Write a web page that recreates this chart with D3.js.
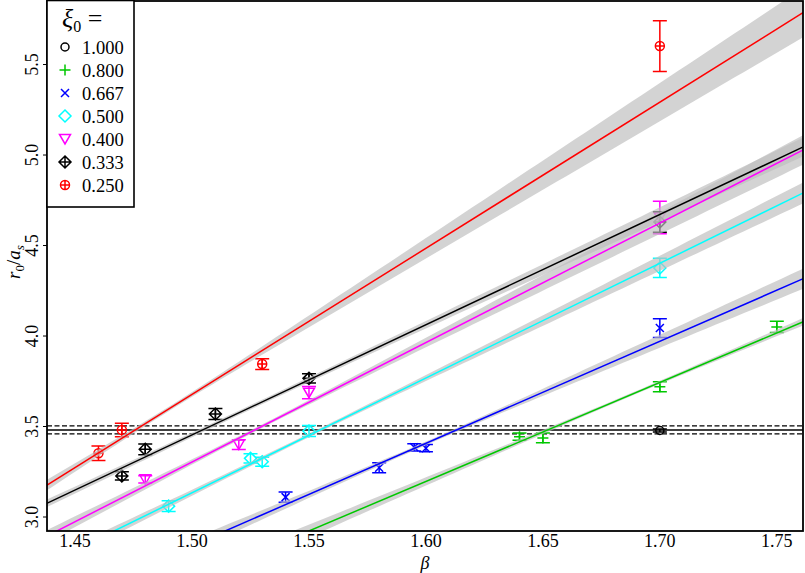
<!DOCTYPE html>
<html>
<head>
<meta charset="utf-8">
<script src="https://cdn.jsdelivr.net/npm/d3@7"></script>
<style>
  body { margin: 0; background: #fff; }
  svg { display: block; }
</style>
</head>
<body>
<div id="graf"></div>
<script>
// I. Datos

const xi0Labels = ['1.000', '0.800', '0.667', '0.500', '0.400', '0.333', '0.250']
const colores = ['#000000', '#00c800', '#0000ff', '#00ffff', '#ff00ff', '#000000', '#ff0000']
const marcadores = ['circle', 'plus', 'x', 'diamond', 'triangleDown', 'diamondPlus', 'circlePlus']

const beta_1000 = [1.70]
const r0_1000 = [3.478]
const err_1000 = [0.008]

const beta_0800 = [1.64, 1.65, 1.70, 1.75]
const r0_0800 = [3.444, 3.437, 3.720, 4.050]
const err_0800 = [0.020, 0.027, 0.028, 0.031]

const beta_0667 = [1.54, 1.58, 1.595, 1.60, 1.70]
const r0_0667 = [3.110, 3.272, 3.385, 3.380, 4.044]
const err_0667 = [0.028, 0.028, 0.020, 0.020, 0.052]

const beta_0500 = [1.49, 1.525, 1.53, 1.55, 1.70]
const r0_0500 = [3.060, 3.324, 3.305, 3.475, 4.376]
const err_0500 = [0.030, 0.026, 0.025, 0.030, 0.053]

const beta_0400 = [1.48, 1.52, 1.55, 1.70]
const r0_0400 = [3.208, 3.400, 3.687, 4.655]
const err_0400 = [0.020, 0.027, 0.034, 0.090]

const beta_0333 = [1.47, 1.48, 1.51, 1.55, 1.70]
const r0_0333 = [3.227, 3.374, 3.569, 3.766, 4.630]
const err_0333 = [0.023, 0.030, 0.030, 0.025, 0.057]

const beta_0250 = [1.46, 1.47, 1.53, 1.70]
const r0_0250 = [3.352, 3.481, 3.845, 5.602]
const err_0250 = [0.040, 0.037, 0.030, 0.140]

// ajustes lineales (xi0 = 0.800 ... 0.250): valor en beta = 1.55 y pendiente
const ajusteIdx = [1, 2, 3, 4, 5, 6]
const ajusteEn155 = [2.923, 3.125, 3.451, 3.634, 3.758, 4.081]
const ajustePendiente = [5.47, 5.64, 6.34, 6.60, 6.09, 8.075]
// banda de error del ajuste
const bandaCentro = [1.685, 1.60, 1.55, 1.53, 1.52, 1.49]
const bandaMin = [0.008, 0.010, 0.010, 0.010, 0.012, 0.012]
const bandaPend = [0.25, 0.34, 0.27, 0.35, 0.21, 0.50]

// valor de referencia r0/as (linea horizontal)
const plateau = 3.481
const plateauErr = 0.022

const xTicks = [1.45, 1.50, 1.55, 1.60, 1.65, 1.70, 1.75]
const yTicks = [3.0, 3.5, 4.0, 4.5, 5.0, 5.5]

// II. Configuracion
const ancho_total = 805, alto_total = 573
const margins = { top: 1, left: 47, right: 2, bottom: 42 }
const fuente = '"Liberation Serif", "Times New Roman", "DejaVu Serif", serif'

const svg = d3.select('#graf').append('svg')
        .attr('width', ancho_total)
        .attr('height', alto_total)
        .attr('font-family', fuente)

const x = d3.scaleLinear().domain([1.438, 1.7612]).range([margins.left, ancho_total - margins.right])
const y = d3.scaleLinear().domain([2.9227, 5.851]).range([alto_total - margins.bottom, margins.top])

const series = [
        { beta: beta_1000, r0: r0_1000, err: err_1000 },
        { beta: beta_0800, r0: r0_0800, err: err_0800 },
        { beta: beta_0667, r0: r0_0667, err: err_0667 },
        { beta: beta_0500, r0: r0_0500, err: err_0500 },
        { beta: beta_0400, r0: r0_0400, err: err_0400 },
        { beta: beta_0333, r0: r0_0333, err: err_0333 },
        { beta: beta_0250, r0: r0_0250, err: err_0250 }
].map((s, i) => ({
        color: colores[i], marcador: marcadores[i], label: xi0Labels[i],
        puntos: s.beta.map((b, j) => ({ beta: b, r0: s.r0[j], err: s.err[j] }))
}))

svg.append('clipPath').attr('id', 'clip')
        .append('rect')
        .attr('x', x.range()[0]).attr('y', y.range()[1])
        .attr('width', x.range()[1] - x.range()[0])
        .attr('height', y.range()[0] - y.range()[1])

const g = svg.append('g').attr('clip-path', 'url(#clip)')

// Funcion para marcadores
function markerPath(tipo) {
        const p = d3.path()
        const circ = r => { p.moveTo(r, 0); p.arc(0, 0, r, 0, 2 * Math.PI) }
        const cruz = r => { p.moveTo(-r, 0); p.lineTo(r, 0); p.moveTo(0, -r); p.lineTo(0, r) }
        const rombo = r => { p.moveTo(0, -r); p.lineTo(r, 0); p.lineTo(0, r); p.lineTo(-r, 0); p.closePath() }
        if (tipo == 'circle') circ(4)
        if (tipo == 'plus') cruz(5.5)
        if (tipo == 'x') { p.moveTo(-4, -4); p.lineTo(4, 4); p.moveTo(-4, 4); p.lineTo(4, -4) }
        if (tipo == 'diamond') rombo(6)
        if (tipo == 'triangleDown') { p.moveTo(-5.5, -4.5); p.lineTo(5.5, -4.5); p.lineTo(0, 5); p.closePath() }
        if (tipo == 'diamondPlus') { rombo(6); cruz(6) }
        if (tipo == 'circlePlus') { circ(4.5); cruz(4.5) }
        return p.toString()
}

// III. Lineas horizontales
g.append('line')
        .attr('x1', x.range()[0]).attr('x2', x.range()[1])
        .attr('y1', y(plateau)).attr('y2', y(plateau))
        .attr('stroke', '#000').attr('stroke-width', 1.6)
;[plateau - plateauErr, plateau + plateauErr].forEach(v => {
        g.append('line')
                .attr('x1', x.range()[0]).attr('x2', x.range()[1])
                .attr('y1', y(v)).attr('y2', y(v))
                .attr('stroke', '#000').attr('stroke-width', 1.3)
                .attr('stroke-dasharray', '5,2.5')
})

// IV. Puntos con barras de error
series.forEach(s => {
        const pts = g.append('g').selectAll('g')
                .data(s.puntos)
                .join('g')
                .attr('transform', d => `translate(${x(d.beta)},${y(d.r0)})`)
                .attr('stroke', s.color)
                .attr('fill', 'none')
                .attr('stroke-width', 1.5)

        pts.append('path')
                .attr('d', d => {
                        const h = y(d.r0 - d.err) - y(d.r0)
                        return `M0,${-h}V${h}M-7,${-h}H7M-7,${h}H7`
                })
        pts.append('path').attr('d', markerPath(s.marcador))
})

// V. Bandas y rectas de ajuste
const betas = d3.range(x.domain()[0] - 0.01, x.domain()[1] + 0.01, 0.004)

ajusteIdx.forEach((idx, k) => {
        const recta = b => ajusteEn155[k] + ajustePendiente[k] * (b - 1.55)
        const ancho = b => Math.sqrt(bandaMin[k] ** 2 + (bandaPend[k] * (b - bandaCentro[k])) ** 2)

        const area = d3.area()
                .x(b => x(b))
                .y0(b => y(recta(b) - ancho(b)))
                .y1(b => y(recta(b) + ancho(b)))

        g.append('path')
                .datum(betas)
                .attr('d', area)
                .attr('fill', 'rgb(190,190,190)')
                .attr('fill-opacity', 0.68)
})

ajusteIdx.forEach((idx, k) => {
        const recta = b => ajusteEn155[k] + ajustePendiente[k] * (b - 1.55)
        const valueline = d3.line().x(b => x(b)).y(b => y(recta(b)))
        g.append('path')
                .datum([betas[0], betas[betas.length - 1]])
                .attr('d', valueline)
                .attr('fill', 'none')
                .attr('stroke', colores[idx])
                .attr('stroke-width', 1.5)
})

// VI. Ejes
svg.append('g').selectAll('text')
        .data(xTicks)
        .join('text')
        .attr('x', d => x(d))
        .attr('y', 547)
        .attr('text-anchor', 'middle')
        .attr('font-size', 18)
        .text(d => d.toFixed(2))

const yAxisGroup = svg.append('g')
yAxisGroup.selectAll('line')
        .data(yTicks)
        .join('line')
        .attr('x1', x.range()[0] - 4).attr('x2', x.range()[0])
        .attr('y1', d => y(d)).attr('y2', d => y(d))
        .attr('stroke', '#000').attr('stroke-width', 1)
yAxisGroup.selectAll('text')
        .data(yTicks)
        .join('text')
        .attr('transform', d => `translate(38,${y(d)}) rotate(-90)`)
        .attr('text-anchor', 'middle')
        .attr('font-size', 18)
        .text(d => d.toFixed(1))

// etiquetas de ejes
svg.append('text')
        .attr('x', 425).attr('y', 569)
        .attr('text-anchor', 'middle')
        .attr('font-size', 18)
        .attr('font-style', 'italic')
        .text('β')

const ylab = svg.append('text')
        .attr('transform', 'translate(20,262) rotate(-90)')
        .attr('text-anchor', 'middle')
        .attr('font-size', 19)
        .attr('font-style', 'italic')
ylab.append('tspan').text('r')
ylab.append('tspan').attr('font-size', 13).attr('font-style', 'normal').attr('dy', 4).text('0')
ylab.append('tspan').attr('dy', -4).attr('font-style', 'normal').text('/')
ylab.append('tspan').text('a')
ylab.append('tspan').attr('font-size', 13).attr('dy', 4).text('s')

// marco
svg.append('rect')
        .attr('x', x.range()[0]).attr('y', y.range()[1])
        .attr('width', x.range()[1] - x.range()[0])
        .attr('height', y.range()[0] - y.range()[1])
        .attr('fill', 'none')
        .attr('stroke', '#000')
        .attr('stroke-width', 1.8)

// VII. Leyenda
const leyenda = svg.append('g')
leyenda.append('rect')
        .attr('x', 47).attr('y', 0.5)
        .attr('width', 87).attr('height', 206.5)
        .attr('fill', '#fff')
        .attr('stroke', '#000')
        .attr('stroke-width', 1.6)

const titulo = leyenda.append('text')
        .attr('x', 62).attr('y', 27)
        .attr('font-size', 26)
titulo.append('tspan').attr('font-style', 'italic').text('ξ')
titulo.append('tspan').attr('font-size', 16).attr('dy', 5).text('0')
titulo.append('tspan').attr('dy', -5).text(' =')

const filas = leyenda.selectAll('g.fila')
        .data(series)
        .join('g')
        .attr('class', 'fila')
        .attr('transform', (d, i) => `translate(65,${47 + i * 23})`)

filas.append('path')
        .attr('d', d => markerPath(d.marcador))
        .attr('fill', 'none')
        .attr('stroke', d => d.color)
        .attr('stroke-width', 1.5)
filas.append('text')
        .attr('x', 17).attr('y', 6.5)
        .attr('font-size', 18.5)
        .text(d => d.label)
</script>
</body>
</html>
